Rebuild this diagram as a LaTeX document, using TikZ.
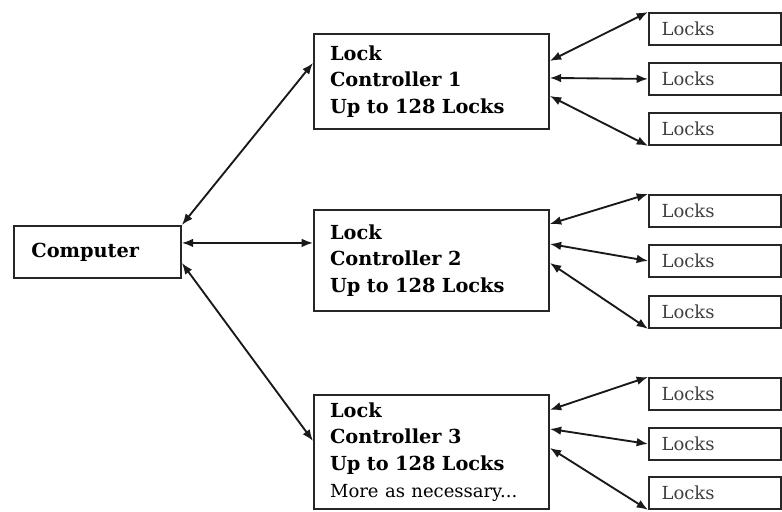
\documentclass[tikz,border=0pt]{standalone}
\usepackage{fontspec}
\setmainfont{DejaVu Serif}
\usetikzlibrary{arrows.meta,calc}
\tikzset{
  box/.style={draw=black!85, line width=1.4pt, rectangle, anchor=north west, inner ysep=0pt},
  ctrl/.style={box, minimum width=176.25pt, inner xsep=12pt, text width=152pt, align=left,
     font=\fontsize{14.5}{20}\selectfont\bfseries},
  lockbox/.style={box, minimum width=99pt, minimum height=24pt, inner xsep=8.5pt, text width=80pt,
     align=left, font=\fontsize{13.5}{16}\selectfont, text=black!75},
  arr/.style={{Latex[length=8.5pt,width=6.5pt]}-{Latex[length=8.5pt,width=6.5pt]}, line width=1.4pt, black!90}
}
\begin{document}
\begin{tikzpicture}[x=0.75pt,y=-0.75pt]
\useasboundingbox (0,0) rectangle (782,511);
\node[box, minimum width=125.25pt, minimum height=39pt, inner xsep=12pt, text width=99pt, align=left,
      font=\fontsize{14.5}{16}\selectfont\bfseries] (comp) at (13,225) {Computer};
\node[ctrl, minimum height=71.25pt] (c1) at (313,33) {Lock\\Controller 1\\Up to 128 Locks};
\node[ctrl, minimum height=75.75pt] (c2) at (313,209) {Lock\\Controller 2\\Up to 128 Locks};
\node[ctrl, minimum height=85.5pt] (c3) at (313,394) {Lock\\Controller 3\\Up to 128 Locks\\
  {\mdseries\fontsize{13.5}{20}\selectfont More as necessary...}};
\node[lockbox] (l11) at (648,12) {Locks};
\node[lockbox] (l12) at (648,62) {Locks};
\node[lockbox] (l13) at (648,112) {Locks};
\node[lockbox] (l21) at (648,194) {Locks};
\node[lockbox] (l22) at (648,244) {Locks};
\node[lockbox] (l23) at (648,295) {Locks};
\node[lockbox] (l31) at (648,377) {Locks};
\node[lockbox] (l32) at (648,427) {Locks};
\node[lockbox] (l33) at (648,476) {Locks};
% computer to controllers
\draw[arr] (comp.north east) -- ($(c1.west)+(0,-18.5)$);
\draw[arr] ($(comp.east)+(0,-9)$) -- ($(c2.west)+(0,-17.5)$);
\draw[arr] ($(comp.east)+(0,11)$) -- ($(c3.west)+(0,-11)$);
% controller 1
\draw[arr] ($(c1.east)+(0,-20.5)$) -- (l11.north west);
\draw[arr] ($(c1.east)+(0,-3.5)$) -- (l12.west);
\draw[arr] ($(c1.east)+(0,14.5)$) -- (l13.south west);
% controller 2
\draw[arr] ($(c2.east)+(0,-36.5)$) -- (l21.north west);
\draw[arr] ($(c2.east)+(0,-16.5)$) -- (l22.west);
\draw[arr] ($(c2.east)+(0,2.5)$) -- (l23.south west);
% controller 3
\draw[arr] ($(c3.east)+(0,-42)$) -- (l31.north west);
\draw[arr] ($(c3.east)+(0,-23)$) -- (l32.west);
\draw[arr] ($(c3.east)+(0,-4)$) -- (l33.south west);
\end{tikzpicture}
\end{document}
